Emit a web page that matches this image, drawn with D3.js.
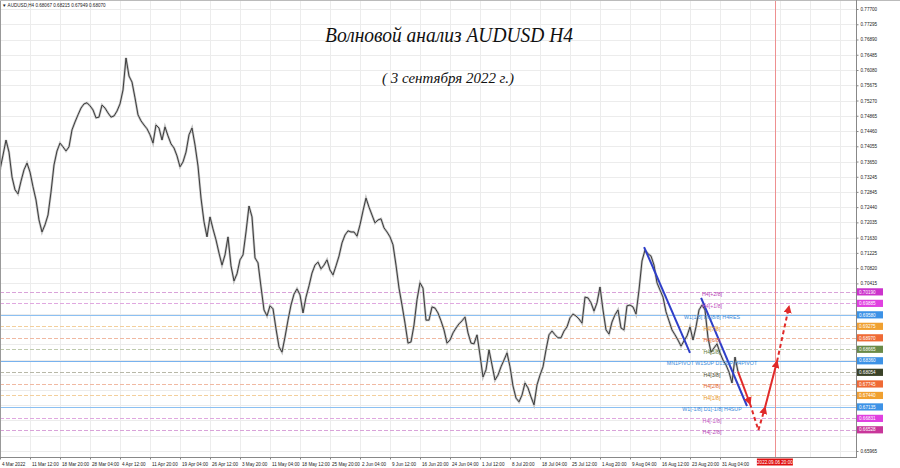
<!DOCTYPE html>
<html><head><meta charset="utf-8">
<script src="https://cdn.jsdelivr.net/npm/d3@7"></script>
<style>
body{margin:0;background:#fff;}
svg{display:block;font-family:"Liberation Sans",Arial,sans-serif;}
</style>
</head><body>
<svg id="c" width="900" height="468"></svg>
<script>
// ---------- DATA ----------
const headerSymbol = "AUDUSD,H4";
const headerOHLC = ["0.68067", "0.68215", "0.67949", "0.68070"];
const titleText = "Волновой анализ AUDUSD H4";
const subtitleText = "( 3 сентября 2022 г.)";

// AUDUSD H4 closes, one sample every ~3.2 bars
const closes = [
  0.7343,0.7382,0.7422,0.7390,0.7324,0.7290,0.7279,0.7313,0.7343,0.7361,
  0.7337,0.7298,0.7263,0.7210,0.7178,0.7197,0.7223,0.7284,0.7356,0.7393,
  0.7414,0.7404,0.7393,0.7404,0.7449,0.7470,0.7489,0.7507,0.7518,0.7521,
  0.7513,0.7502,0.7481,0.7483,0.7515,0.7507,0.7494,0.7483,0.7486,0.7499,
  0.7518,0.7555,0.7640,0.7592,0.7576,0.7534,0.7489,0.7473,0.7462,0.7452,
  0.7436,0.7414,0.7462,0.7454,0.7422,0.7457,0.7433,0.7412,0.7401,0.7380,
  0.7351,0.7364,0.7390,0.7436,0.7454,0.7409,0.7353,0.7268,0.7205,0.7165,
  0.7218,0.7186,0.7157,0.7122,0.7090,0.7117,0.7165,0.7088,0.7048,0.7067,
  0.7104,0.7117,0.7178,0.7247,0.7218,0.7109,0.7096,0.7032,0.6971,0.6955,
  0.6982,0.6974,0.6921,0.6873,0.6859,0.6899,0.6944,0.6984,0.7013,0.7027,
  0.7011,0.6963,0.7005,0.7035,0.7069,0.7090,0.7098,0.7080,0.7090,0.7104,
  0.7077,0.7064,0.7088,0.7114,0.7149,0.7170,0.7181,0.7178,0.7178,0.7167,
  0.7197,0.7234,0.7268,0.7244,0.7223,0.7202,0.7210,0.7213,0.7189,0.7178,
  0.7165,0.7144,0.7090,0.7029,0.6984,0.6936,0.6883,0.6886,0.6931,0.6998,
  0.7043,0.7029,0.6944,0.6944,0.6979,0.6976,0.6963,0.6942,0.6918,0.6883,
  0.6891,0.6910,0.6923,0.6934,0.6942,0.6952,0.6910,0.6883,0.6881,0.6905,
  0.6851,0.6793,0.6812,0.6865,0.6825,0.6785,0.6798,0.6820,0.6838,0.6857,
  0.6820,0.6769,0.6737,0.6727,0.6745,0.6777,0.6764,0.6740,0.6719,0.6772,
  0.6798,0.6820,0.6865,0.6905,0.6915,0.6905,0.6897,0.6897,0.6915,0.6926,
  0.6950,0.6960,0.6955,0.6947,0.6936,0.7005,0.7003,0.6990,0.6968,0.6990,
  0.7032,0.6971,0.6918,0.6907,0.6939,0.6958,0.6971,0.6923,0.6918,0.6982,
  0.6984,0.6979,0.6960,0.7024,0.7101,0.7130,0.7120,0.7114,0.7090,0.7043,
  0.7024,0.7005,0.6966,0.6942,0.6918,0.6905,0.6891,0.6875,0.6889,0.6902,
  0.6926,0.6891,0.6926,0.6971,0.6984,0.6971,0.6897,0.6859,0.6870,0.6881,
  0.6857,0.6838,0.6825,0.6806,0.6777,0.6846,0.6807
];

const timeLabels = ["4 Mar 2022","11 Mar 12:00","18 Mar 20:00","28 Mar 04:00","4 Apr 12:00",
  "11 Apr 20:00","19 Apr 04:00","26 Apr 12:00","3 May 20:00","11 May 04:00","18 May 12:00",
  "25 May 20:00","2 Jun 04:00","9 Jun 12:00","16 Jun 20:00","24 Jun 04:00","1 Jul 12:00",
  "8 Jul 20:00","18 Jul 04:00","25 Jul 12:00","1 Aug 20:00","9 Aug 04:00","16 Aug 12:00",
  "23 Aug 20:00","31 Aug 04:00"];
const samplesPerLabel = 10;

const priceTickLabels = ["0.77700","0.77295","0.76890","0.76485","0.76080","0.75675","0.75270",
  "0.74865","0.74460","0.74055","0.73650","0.73245","0.72845","0.72440","0.72035","0.71630",
  "0.71225","0.70820","0.70415","0.70010","0.69605","0.69200","0.68795","0.68390","0.67985",
  "0.67585","0.67180","0.66775","0.66370","0.65965"];

// Murrey-math style levels
const levelPrices = [0.70190,0.69885,0.69580,0.69275,0.68970,0.68665,0.68360,0.68054,0.67745,0.67440,0.67135,0.66831,0.66528];
const levelTags   = ["0.70190","0.69885","0.69580","0.69275","0.68970","0.68665","0.68360","0.68054","0.67745","0.67440","0.67135","0.66831","0.66528"];
const levelOctave = ["+2/8","+1/8","8/8","7/8","6/8","5/8","4/8","3/8","2/8","1/8","0/8","-1/8","-2/8"];
const levelNames  = ["H4[+2/8]","H4[+1/8]","W1[1/8] D1[8/8] H4RES","H4[7/8]","H4[6/8]","H4[5/8]",
  "MN1PIVOT W1SUP D1SUP H4PIVOT","H4[3/8]","H4[2/8]","H4[1/8]","W1[-1/8] D1[-1/8] H4SUP","H4[-1/8]","H4[-2/8]"];

// trend lines (sample index, price)
const trendStartIdx = [214.7, 233.7];
const trendStartPrice = [0.7138, 0.7003];
const trendEndIdx = [230.0, 249.0];
const trendEndPrice = [0.6857, 0.6716];

// forecast path
const forecastIdx = [246.0, 250.0, 252.8, 255.0, 259.0, 263.0];
const forecastPrice = [0.6807, 0.6722, 0.6652, 0.6712, 0.6834, 0.6980];

const markerIdx = 258.3;
const markerLabel = "2022.09.06 20:00";

// ---------- DRAW ----------
const W = 900, H = 468, plotR = 856, plotB = 457;
const svg = d3.select("#c");
const x = d3.scaleLinear().domain([0, 280]).range([0, 840]);
const y = d3.scaleLinear().domain([0.65965, 0.77700]).range([451, 9]);
const priceTicks = priceTickLabels.map(Number);
const timeIdx = timeLabels.map((d, i) => i * samplesPerLabel);

svg.append("rect").attr("width", W).attr("height", H).attr("fill", "#fff");

const plot = svg.append("g");
plot.append("clipPath").attr("id", "clip").append("rect")
  .attr("x", 0).attr("y", 0).attr("width", plotR).attr("height", plotB);

// grid
const grid = plot.append("g").attr("stroke", "#ececec").attr("stroke-width", 1);
d3.range(0, 290, 10).forEach(i => {
  grid.append("line").attr("x1", x(i) + 0.5).attr("x2", x(i) + 0.5).attr("y1", 0).attr("y2", plotB);
});
priceTicks.forEach(p => {
  const yy = Math.round(y(p)) + 0.5;
  grid.append("line").attr("x1", 0).attr("x2", plotR).attr("y1", yy).attr("y2", yy);
});

// level lines
const octColor = {
  "+2/8": {line: "#d9a3d9", text: "#b440b4", tag: "#cc33cc", dash: "4,2"},
  "+1/8": {line: "#e0a8e0", text: "#c050c0", tag: "#e040e0", dash: "4,2"},
  "8/8":  {line: "#8cc0f2", text: "#3a8ad8", tag: "#3d92e6", dash: null},
  "7/8":  {line: "#f3cf9c", text: "#e8962a", tag: "#f0a030", dash: "4,2"},
  "6/8":  {line: "#f0b9a2", text: "#e0602c", tag: "#ef6a35", dash: "4,2"},
  "5/8":  {line: "#bfcaae", text: "#5e7a3a", tag: "#6a8a48", dash: "4,2"},
  "4/8":  {line: "#78b2ee", text: "#3a8ad8", tag: "#3d92e6", dash: null},
  "3/8":  {line: "#b8b8a8", text: "#4a4a30", tag: "#3a4228", dash: "4,2"},
  "2/8":  {line: "#f0b9a2", text: "#e0602c", tag: "#ef6a35", dash: "4,2"},
  "1/8":  {line: "#f3cf9c", text: "#e8962a", tag: "#f0a030", dash: "4,2"},
  "0/8":  {line: "#8cc0f2", text: "#3a8ad8", tag: "#3d92e6", dash: null},
  "-1/8": {line: "#e0a8e0", text: "#c050c0", tag: "#e040e0", dash: "4,2"},
  "-2/8": {line: "#d9a3d9", text: "#b440b4", tag: "#c8369a", dash: "4,2"}
};
const lv = plot.append("g");
levelPrices.forEach((p, i) => {
  const c = octColor[levelOctave[i]];
  const yy = Math.round(y(p)) + 0.5;
  lv.append("line").attr("x1", 0).attr("x2", plotR).attr("y1", yy).attr("y2", yy)
    .attr("stroke", c.line).attr("stroke-width", 1)
    .attr("stroke-dasharray", c.dash);
});

// vertical marker line
plot.append("line").attr("x1", Math.round(x(markerIdx)) + 0.5).attr("x2", Math.round(x(markerIdx)) + 0.5)
  .attr("y1", 0).attr("y2", plotB).attr("stroke", "#ee9090").attr("stroke-width", 1);

// price series
const line = d3.line().x((d, i) => x(i)).y(d => y(d));
const pg = plot.append("g").attr("clip-path", "url(#clip)");
pg.append("path").datum(closes).attr("d", line).attr("fill", "none")
  .attr("stroke", "#c4c4c4").attr("stroke-width", 2.4).attr("stroke-linejoin", "miter");
pg.append("path").datum(closes).attr("d", line).attr("fill", "none")
  .attr("stroke", "#3c3c3c").attr("stroke-width", 1).attr("stroke-linejoin", "miter");

// level names
const ln = plot.append("g").attr("font-size", "5.3px").attr("text-anchor", "middle");
levelPrices.forEach((p, i) => {
  const c = octColor[levelOctave[i]];
  ln.append("text").attr("x", 712).attr("y", y(p) + 4.2)
    .attr("fill", c.text).text(levelNames[i]);
});

// trend lines
trendStartIdx.forEach((s, i) => {
  pg.append("line").attr("x1", x(s)).attr("y1", y(trendStartPrice[i]))
    .attr("x2", x(trendEndIdx[i])).attr("y2", y(trendEndPrice[i]))
    .attr("stroke", "#2f3fc8").attr("stroke-width", 2);
});

// forecast arrows
const defs = svg.append("defs");
defs.append("marker").attr("id", "arr").attr("viewBox", "0 0 10 10")
  .attr("refX", 8).attr("refY", 5).attr("markerWidth", 4).attr("markerHeight", 4)
  .attr("orient", "auto").attr("markerUnits", "strokeWidth")
  .append("path").attr("d", "M0,0 L10,5 L0,10 z").attr("fill", "#e02a2a");
const segDashed = [false, true, true, false, true];
const segArrow = [true, false, true, true, true];
for (let i = 0; i < forecastIdx.length - 1; i++) {
  plot.append("line")
    .attr("x1", x(forecastIdx[i])).attr("y1", y(forecastPrice[i]))
    .attr("x2", x(forecastIdx[i + 1])).attr("y2", y(forecastPrice[i + 1]))
    .attr("stroke", "#e02a2a").attr("stroke-width", 2)
    .attr("stroke-dasharray", segDashed[i] ? "4,3" : null)
    .attr("marker-end", segArrow[i] ? "url(#arr)" : null);
}

// titles (handwritten look: cursive Cyrillic italic forms)
svg.append("text").attr("x", 449).attr("y", 42).attr("text-anchor", "middle")
  .attr("font-family", "'Liberation Serif', serif").attr("font-style", "italic")
  .attr("font-size", "20px").attr("fill", "#111")
  .attr("textLength", 248).attr("lengthAdjust", "spacingAndGlyphs").text(titleText);
svg.append("text").attr("x", 448).attr("y", 83).attr("text-anchor", "middle")
  .attr("font-family", "'Liberation Serif', serif").attr("font-style", "italic")
  .attr("font-size", "14px").attr("fill", "#111")
  .attr("textLength", 132).attr("lengthAdjust", "spacingAndGlyphs").text(subtitleText);

// header
svg.append("text").attr("x", 2).attr("y", 7).attr("font-size", "4.6px").attr("fill", "#222")
  .text("\u25BC " + headerSymbol + "  " + headerOHLC.join(" "));

// frame
svg.append("line").attr("x1", 0.5).attr("x2", 0.5).attr("y1", 0).attr("y2", plotB).attr("stroke", "#999");
svg.append("line").attr("x1", 0).attr("x2", W).attr("y1", 0.5).attr("y2", 0.5).attr("stroke", "#bbb");
svg.append("line").attr("x1", 0).attr("x2", plotR).attr("y1", plotB + 0.5).attr("y2", plotB + 0.5).attr("stroke", "#888");
svg.append("line").attr("x1", plotR + 0.5).attr("x2", plotR + 0.5).attr("y1", 0).attr("y2", plotB + 1).attr("stroke", "#888");

// price axis: tick labels hidden where a level tag covers them (as in the terminal)
const tagYs = levelPrices.map(p => y(p));
const visibleTicks = priceTicks.filter(p => tagYs.every(t => Math.abs(y(p) - t) > 7.4));
const ya = svg.append("g").attr("transform", `translate(${plotR + 0.5},0)`)
  .call(d3.axisRight(y).tickValues(visibleTicks)
    .tickFormat(d => priceTickLabels[priceTicks.indexOf(d)]).tickSize(2).tickPadding(2));
ya.select(".domain").remove();
ya.selectAll("line").attr("stroke", "#888");
ya.selectAll("text").attr("font-size", "4.6px").attr("fill", "#222").attr("font-family", "'Liberation Sans',Arial,sans-serif");

// time axis
const xa = svg.append("g").attr("transform", `translate(0,${plotB + 0.5})`)
  .call(d3.axisBottom(x).tickValues(timeIdx).tickFormat((d, i) => timeLabels[i]).tickSize(2).tickPadding(3));
xa.select(".domain").remove();
xa.selectAll("line").attr("stroke", "#888");
xa.selectAll("text").attr("text-anchor", "start").attr("x", 1.5)
  .attr("font-size", "4.6px").attr("fill", "#222").attr("font-family", "'Liberation Sans',Arial,sans-serif");

// level tags on price axis
const tg = svg.append("g");
levelPrices.forEach((p, i) => {
  const c = octColor[levelOctave[i]];
  const yy = y(p);
  tg.append("rect").attr("x", plotR + 1).attr("y", yy - 3.6).attr("width", 26).attr("height", 7.2).attr("fill", c.tag);
  tg.append("text").attr("x", plotR + 3).attr("y", yy + 1.7).attr("font-size", "4.6px")
    .attr("fill", "#fff").text(levelTags[i]);
});

// marker date label
const mx = x(markerIdx);
svg.append("rect").attr("x", mx - 18).attr("y", plotB + 1.5).attr("width", 36).attr("height", 7).attr("fill", "#e01010");
svg.append("text").attr("x", mx).attr("y", plotB + 6.8).attr("text-anchor", "middle")
  .attr("font-size", "4.6px").attr("fill", "#fff").text(markerLabel);
</script>
</body></html>
